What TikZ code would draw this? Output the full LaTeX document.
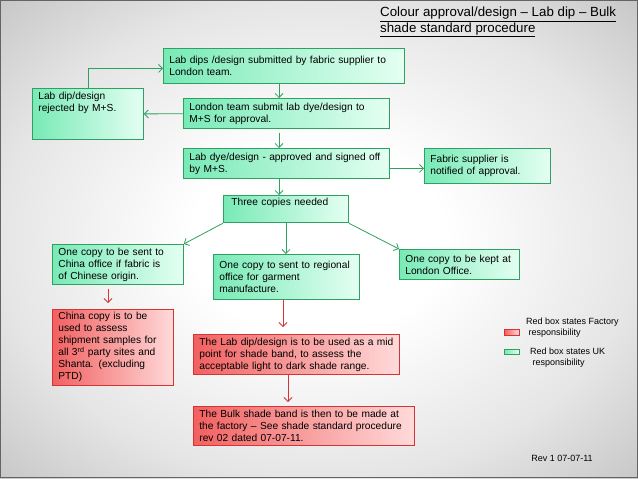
\documentclass[tikz,border=0pt]{standalone}
\usepackage{fontspec}
\setmainfont{Liberation Sans}
\usetikzlibrary{arrows.meta}
\definecolor{gline}{RGB}{46,160,96}
\definecolor{gdark}{RGB}{120,234,182}
\definecolor{glight}{RGB}{228,255,242}
\definecolor{rline}{RGB}{214,52,52}
\definecolor{rdark}{RGB}{242,96,96}
\definecolor{rlight}{RGB}{255,218,218}
\definecolor{frame}{RGB}{100,100,100}
\pgfdeclareradialshading{slidebg}{\pgfpoint{0bp}{0bp}}{color(0bp)=(white); color(10bp)=(white); color(25bp)=(black!10); color(40bp)=(black!27); color(50bp)=(black!40); color(72bp)=(black!50)}
\begin{document}
\begin{tikzpicture}[x=1pt,y=-1pt]
  \tikzstyle{gbox}=[draw=gline,line width=0.8pt,left color=gdark,right color=glight,anchor=north west,align=left,inner xsep=6pt,inner ysep=3pt,font=\fontsize{10.2}{12}\selectfont]
  \tikzstyle{rbox}=[gbox,draw=rline,left color=rdark,right color=rlight]
  \tikzstyle{gedge}=[-{Straight Barb[length=4pt,width=8pt]},gline,line width=0.8pt]
  \tikzstyle{redge}=[gedge,rline]
  \tikzstyle{keytext}=[anchor=north west,align=left,inner sep=0pt,font=\fontsize{9}{10.5}\selectfont]
  % background
  \shade[shading=slidebg] (0,0) rectangle (638,479);
  \draw[frame,line width=1.2pt] (0.6,0.6) rectangle (637.4,477.4);
  \useasboundingbox (0,0) rectangle (638,479);
  \node[anchor=north west,align=left,inner sep=0pt,font=\fontsize{13.3}{14}\selectfont] (title) at (380,7)
    {\underline{Colour approval/design – Lab dip – Bulk}\\\underline{shade standard procedure}};
  % upper part
  \node[gbox,minimum width=241pt,minimum height=35pt,text width=229pt] (subm) at (163,48) {Lab dips /design submitted  by fabric supplier to\\London team.};
  \node[gbox,minimum width=206pt,minimum height=30pt,text width=194pt] (lond) at (183,98) {London team submit lab dye/design  to\\M+S  for approval.};
  \node[gbox,minimum width=111pt,text width=99pt,text depth=36pt,inner ysep=4pt] (rej) at (32,88) {Lab dip/design\\rejected by  M+S.};
  \node[gbox,minimum width=206pt,minimum height=30pt,text width=194pt] (appr) at (183,148) {Lab dye/design  - approved and signed off\\by M+S.};
  \node[gbox,minimum width=126pt,minimum height=35pt,text width=114pt] (notif) at (424,148) {Fabric supplier is\\notified  of approval.};
  \node[gbox,minimum width=121pt,text width=109pt,text depth=14pt,inner xsep=8pt] (three) at (223,195) {Three copies needed};
  % copies
  \node[gbox,minimum width=131pt,minimum height=40pt,text width=119pt] (china) at (52,244) {One copy to be sent to\\China office if fabric is\\of Chinese origin.};
  \node[gbox,minimum width=146pt,minimum height=45pt,text width=134pt] (regional) at (213,254) {One copy to sent to regional\\office for garment\\manufacture.};
  \node[gbox,minimum width=120pt,minimum height=30pt,text width=108pt] (kept) at (399,249) {One copy to be kept at\\London Office.};
  % factory part
  \node[rbox,minimum width=121pt,minimum height=75pt,text width=109pt] (cncopy) at (52,309) {China copy is to be\\used to assess\\shipment samples for\\all 3\textsuperscript{rd} party sites  and\\Shanta. (excluding\\PTD)};
  \node[rbox,minimum width=206pt,minimum height=40pt,text width=194pt] (mid) at (193,334) {The  Lab dip/design is to be used as a mid\\point for shade band, to assess the\\acceptable light to dark shade range.};
  \node[rbox,minimum width=221pt,minimum height=39pt,text width=209pt] (bulk) at (193,406) {The Bulk shade band is then to be made at\\the factory – See  shade standard procedure\\rev 02  dated 07-07-11.};
  % key
  \node[rbox,minimum width=15pt,minimum height=6pt,inner sep=0pt] (keyred) at (504,329) {};
  \node[gbox,minimum width=15pt,minimum height=5pt,inner sep=0pt] (keygreen) at (504,349) {};
  \node[keytext] (keyredtxt) at (526,318) {Red box states Factory\\\ responsibility};
  \node[keytext] (keygreentxt) at (530,348) {Red box states UK\\\ responsibility};
  \node[font=\fontsize{9}{10}\selectfont] (rev) at (562,458) {Rev 1  07-07-11};
  % arrows
  \coordinate (spine) at (279,0);
  \coordinate (redspine) at (283,0);
  \coordinate (bulkline) at (288,0);
  \coordinate (chinaline) at (108,0);
  \draw[gedge] (subm.south -| spine) -- (lond.north -| spine);
  \draw[gedge,shorten <=4pt] (lond.south -| spine) -- (appr.north -| spine);
  \draw[gedge] (appr.south -| spine) -- (three.north -| spine);
  \draw[gedge] (lond) -- (rej);
  \draw[gedge] (rej.north) |- ([yshift=-2.5pt]subm.west);
  \draw[gedge] ([yshift=-5pt]appr.east) -- ([yshift=-5pt]appr.east -| notif.west);
  \draw[gedge] (three.south west) -- (china.north east);
  \draw[gedge] (three.south) -- (three.south |- regional.north);
  \draw[gedge] (three.south east) -- (kept.north west);
  \draw[redge,shorten <=4pt,shorten >=6pt] (china.south -| chinaline) -- (cncopy.north -| chinaline);
  \draw[redge,shorten >=7pt] (regional.south -| redspine) -- (mid.north -| redspine);
  \draw[redge,shorten >=4pt] (mid.south -| bulkline) -- (bulk.north -| bulkline);
\end{tikzpicture}
\end{document}
